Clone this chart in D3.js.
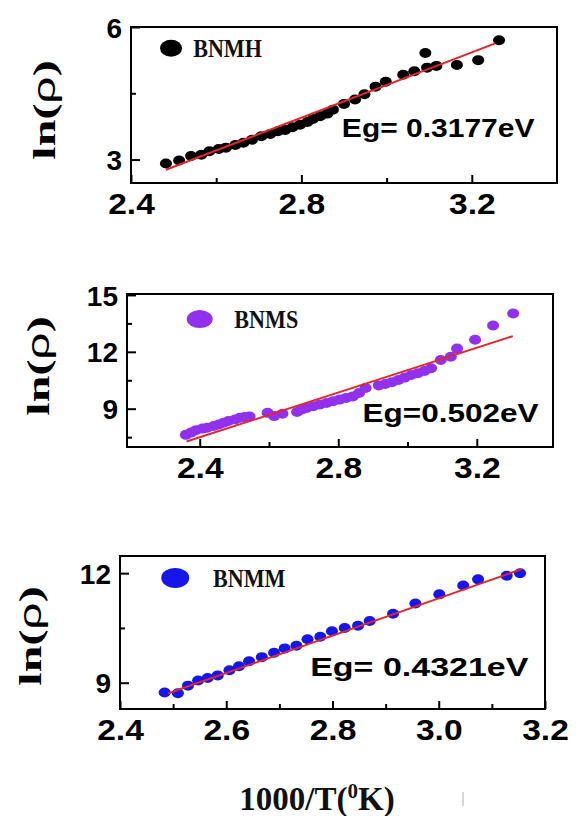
<!DOCTYPE html>
<html>
<head>
<meta charset="utf-8">
<script src="https://cdn.jsdelivr.net/npm/d3@7"></script>
<style>
  body { margin: 0; background: #fff; }
  svg { display: block; }
</style>
</head>
<body>
<div id="chart"></div>
<script>
// data (x = 1000/T, y = ln(rho))
const xBNMH = [2.482, 2.513, 2.541, 2.565, 2.584, 2.606, 2.623, 2.645, 2.664, 2.684, 2.706, 2.727, 2.745, 2.762, 2.779, 2.797, 2.814, 2.827, 2.844, 2.861, 2.874, 2.900, 2.926, 2.948, 2.974, 2.998, 3.039, 3.065, 3.091, 3.095, 3.117, 3.165, 3.215, 3.264];
const yBNMH = [2.91, 2.98, 3.08, 3.11, 3.19, 3.24, 3.27, 3.33, 3.38, 3.45, 3.53, 3.58, 3.64, 3.67, 3.73, 3.79, 3.85, 3.92, 3.98, 4.04, 4.13, 4.26, 4.36, 4.48, 4.65, 4.76, 4.92, 5.00, 5.41, 5.08, 5.12, 5.14, 5.25, 5.70];

const xBNMS = [2.360, 2.375, 2.389, 2.408, 2.422, 2.441, 2.455, 2.469, 2.483, 2.502, 2.516, 2.530, 2.544, 2.596, 2.615, 2.639, 2.681, 2.695, 2.709, 2.728, 2.747, 2.766, 2.785, 2.804, 2.823, 2.842, 2.860, 2.879, 2.917, 2.936, 2.955, 2.974, 2.992, 3.011, 3.030, 3.049, 3.068, 3.096, 3.125, 3.143, 3.195, 3.247, 3.305];
const yBNMS = [7.62, 7.74, 7.86, 7.95, 8.00, 8.09, 8.17, 8.26, 8.35, 8.43, 8.52, 8.56, 8.59, 8.78, 8.61, 8.73, 8.83, 8.96, 9.04, 9.13, 9.22, 9.30, 9.39, 9.48, 9.57, 9.65, 9.83, 10.09, 10.23, 10.30, 10.40, 10.52, 10.64, 10.78, 10.87, 10.99, 11.13, 11.57, 11.74, 12.17, 12.64, 13.39, 14.02];

const xBNMM = [2.484, 2.509, 2.528, 2.547, 2.565, 2.584, 2.606, 2.624, 2.643, 2.667, 2.690, 2.710, 2.732, 2.753, 2.777, 2.799, 2.823, 2.848, 2.870, 2.914, 2.956, 3.001, 3.046, 3.074, 3.128, 3.153];
const yBNMM = [8.73, 8.71, 8.92, 9.06, 9.13, 9.20, 9.34, 9.45, 9.59, 9.70, 9.82, 9.94, 10.01, 10.19, 10.26, 10.41, 10.50, 10.56, 10.69, 10.89, 11.17, 11.42, 11.66, 11.83, 11.93, 12.00];

// linear fits (end points)
const fitXBNMH = [2.482, 3.255], fitYBNMH = [2.77, 5.63];
const fitXBNMS = [2.362, 3.304], fitYBNMS = [7.27, 12.83];
const fitXBNMM = [2.491, 3.156], fitYBNMM = [8.71, 12.11];

const names = ["BNMH", "BNMS", "BNMM"];
const energies = ["Eg= 0.3177eV", "Eg=0.502eV", "Eg= 0.4321eV"];

// ticks
const xMajor = [[2.4, 2.8, 3.2], [2.4, 2.8, 3.2], [2.4, 2.6, 2.8, 3.0, 3.2]];
const xMinor = [[2.6, 3.0], [2.6, 3.0], [2.5, 2.7, 2.9, 3.1]];
const yMajor = [[3, 6], [9, 12, 15], [9, 12]];
const yMinor = [[4.5], [7.5, 10.5, 13.5], [10.5]];

const W = 577, H = 816;
const svg = d3.select("#chart").append("svg")
    .attr("width", W)
    .attr("height", H);

// layout of the three panels
const panels = [
  { left: 131, right: 557, top: 27, bottom: 183, xDom: [2.4, 3.4], yDom: [2.47, 6.0],
    xs: xBNMH, ys: yBNMH, fx: fitXBNMH, fy: fitYBNMH, color: "#000000",
    leg: [2.494, 5.52], legR: [11, 8.5], legText: 2.546, eg: [2.895, 3.71], egScale: 1.2, titleX: 45, titleY: 110 },
  { left: 127, right: 553, top: 294, bottom: 447, xDom: [2.19, 3.42], yDom: [6.98, 15.05],
    xs: xBNMS, ys: yBNMS, fx: fitXBNMS, fy: fitYBNMS, color: "#9131ee",
    leg: [2.40, 13.73], legR: [13, 9], legText: 2.50, eg: [2.87, 8.77], egScale: 1.26, titleX: 39, titleY: 366 },
  { left: 120, right: 545, top: 556, bottom: 709, xDom: [2.4, 3.2], yDom: [8.28, 12.47],
    xs: xBNMM, ys: yBNMM, fx: fitXBNMM, fy: fitYBNMM, color: "#1616ea",
    leg: [2.504, 11.87], legR: [14, 10], legText: 2.575, eg: [2.758, 9.43], egScale: 1.36, titleX: 31, titleY: 636 }
];

const sans = "'Liberation Sans', Arial, sans-serif";
const serif = "'Liberation Serif', 'Times New Roman', serif";

panels.forEach((p, i) => {
  const x = d3.scaleLinear().domain(p.xDom).range([p.left, p.right]);
  const y = d3.scaleLinear().domain(p.yDom).range([p.bottom, p.top]);
  const g = svg.append("g");

  // ticks (pointing inward)
  const xAx = g.append("g")
      .attr("transform", `translate(0,${p.bottom})`)
      .call(d3.axisBottom(x).tickValues(xMajor[i]).tickSize(-8).tickFormat(d3.format(".1f")));
  g.append("g")
      .attr("transform", `translate(0,${p.bottom})`)
      .call(d3.axisBottom(x).tickValues(xMinor[i]).tickSize(-5).tickFormat(""));
  const yAx = g.append("g")
      .attr("transform", `translate(${p.left},0)`)
      .call(d3.axisLeft(y).tickValues(yMajor[i]).tickSize(-9).tickFormat(d3.format("d")));
  g.append("g")
      .attr("transform", `translate(${p.left},0)`)
      .call(d3.axisLeft(y).tickValues(yMinor[i]).tickSize(-5).tickFormat(""));

  g.selectAll(".domain").remove();
  g.selectAll(".tick line").attr("stroke", "#000").attr("stroke-width", 2);

  xAx.selectAll("text")
      .attr("y", 0).attr("dy", null)
      .attr("transform", "translate(0,31) scale(1.12,1)")
      .style("font-family", sans).style("font-weight", "bold").style("font-size", "30px")
      .attr("fill", "#000");
  yAx.selectAll("text")
      .attr("x", -9).attr("dy", "0.36em")
      .style("font-family", sans).style("font-weight", "bold").style("font-size", "28px")
      .attr("fill", "#000");

  // frame
  g.append("rect")
      .attr("x", p.left).attr("y", p.top)
      .attr("width", p.right - p.left).attr("height", p.bottom - p.top)
      .attr("fill", "none").attr("stroke", "#000").attr("stroke-width", 2);

  // points
  g.selectAll(".pt")
      .data(p.xs.map((v, k) => [v, p.ys[k]]))
      .enter()
      .append("ellipse")
      .attr("class", "pt")
      .attr("cx", d => x(d[0]))
      .attr("cy", d => y(d[1]))
      .attr("rx", 6)
      .attr("ry", 5)
      .attr("fill", p.color);

  // fit line
  g.append("line")
      .attr("x1", x(p.fx[0])).attr("y1", y(p.fy[0]))
      .attr("x2", x(p.fx[1])).attr("y2", y(p.fy[1]))
      .attr("stroke", "#e3262b").attr("stroke-width", 2);

  // legend
  g.append("ellipse")
      .attr("cx", x(p.leg[0])).attr("cy", y(p.leg[1]))
      .attr("rx", p.legR[0]).attr("ry", p.legR[1])
      .attr("fill", p.color);
  g.append("text")
      .attr("transform", `translate(${x(p.legText)},${y(p.leg[1])}) scale(0.85,1)`)
      .attr("dy", "0.34em")
      .style("font-family", serif).style("font-weight", "bold").style("font-size", "26px")
      .attr("fill", "#111")
      .text(names[i]);

  // activation energy
  g.append("text")
      .attr("transform", `translate(${x(p.eg[0])},${y(p.eg[1])}) scale(${p.egScale},1)`)
      .attr("dy", "0.36em")
      .style("font-family", sans).style("font-weight", "bold").style("font-size", "25px")
      .attr("fill", "#000")
      .text(energies[i]);

  // y title
  const t = g.append("text")
      .attr("transform", `translate(${p.titleX},${p.titleY}) rotate(-90) scale(1.5,1)`)
      .attr("text-anchor", "middle")
      .attr("dy", "0.3em")
      .style("font-family", serif).style("font-weight", "bold").style("font-size", "32px")
      .attr("fill", "#000");
  t.append("tspan").text("ln(");
  t.append("tspan").style("font-family", sans).style("font-weight", "normal").text("ρ");
  t.append("tspan").text(")");
});

// x title
const xt = svg.append("text")
    .attr("x", 317).attr("y", 810)
    .attr("text-anchor", "middle")
    .style("font-family", serif).style("font-weight", "bold").style("font-size", "33px")
    .attr("fill", "#111");
xt.append("tspan").text("1000/T(");
xt.append("tspan").attr("baseline-shift", "super").style("font-size", "21px").text("0");
xt.append("tspan").text("K)");

// small grey scan mark right of the title
svg.append("line")
    .attr("x1", 463).attr("x2", 463).attr("y1", 792).attr("y2", 806)
    .attr("stroke", "#c8c8c8").attr("stroke-width", 1.5);
</script>
</body>
</html>
